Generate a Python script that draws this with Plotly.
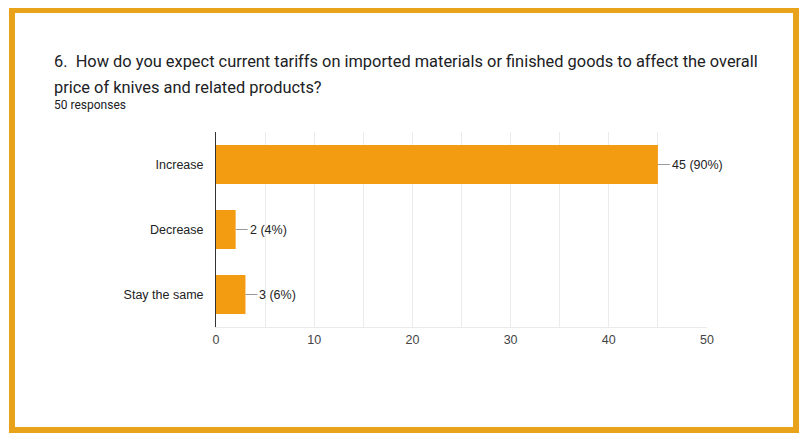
import plotly.graph_objects as go

categories = ["Increase", "Decrease", "Stay the same"]
counts = [45, 2, 3]
total = 50
x_ticks = [0, 10, 20, 30, 40, 50]

# page body has an 8px default margin, so the figure is shrunk and shifted
OFF = 8
W, H = 810 - OFF, 444 - OFF
L, R, T, B = 216 - OFF, 103, 132 - OFF, 117


def px(x):
    return (x - OFF - L) / (W - L - R)


def py(y):
    return 1 - (y - OFF - T) / (H - T - B)


fig = go.Figure()

fig.add_trace(go.Bar(
    x=counts, y=categories, orientation="h",
    marker=dict(color="#F39C12", line=dict(width=0)),
    hoverinfo="skip",
))

# value labels with a short connector
for c, n in zip(categories, counts):
    fig.add_annotation(
        x=n, y=c, xref="x", yref="y",
        text=f"{n} ({n / total * 100:.0f}%)",
        showarrow=True, arrowhead=0, arrowwidth=1, arrowcolor="#999999",
        ax=12, ay=0, xanchor="left", standoff=0,
        font=dict(family="Liberation Sans, Arial", size=12.5, color="#222222"),
    )

# question title
title_font = dict(family="Roboto, Arial", size=16.4, color="#202124")
fig.add_annotation(x=px(52), y=py(62), xref="paper", yref="paper",
                   text="6.  How do you expect current tariffs on imported materials or finished goods to affect the overall",
                   showarrow=False, xanchor="left", yanchor="middle", font=title_font)
fig.add_annotation(x=px(52), y=py(88), xref="paper", yref="paper",
                   text="price of knives and related products?",
                   showarrow=False, xanchor="left", yanchor="middle", font=title_font)
fig.add_annotation(x=px(52), y=py(105), xref="paper", yref="paper",
                   text="50 responses",
                   showarrow=False, xanchor="left", yanchor="middle",
                   font=dict(family="Roboto, Arial", size=12, color="#202124"))

# orange frame
fig.add_shape(type="rect", xref="paper", yref="paper",
              x0=px(12), x1=px(796), y0=py(10), y1=py(430),
              line=dict(color="#E9A31A", width=6), layer="below")

fig.update_layout(
    width=W, height=H,
    margin=dict(l=L, r=R, t=T, b=B),
    paper_bgcolor="white", plot_bgcolor="white",
    bargap=0.4, showlegend=False,
    xaxis=dict(
        range=[0, 50], tickvals=x_ticks, showgrid=True, gridcolor="#ebebeb",
        minor=dict(dtick=5, showgrid=True, gridcolor="#ebebeb"),
        zeroline=False, showline=True, linecolor="#ebebeb",
        ticklabelstandoff=1,
        tickfont=dict(family="Liberation Sans, Arial", size=12.5, color="#444444"),
    ),
    yaxis=dict(
        categoryorder="array", categoryarray=categories, autorange="reversed",
        showline=True, linecolor="#333333", linewidth=1, showgrid=False,
        ticklabelstandoff=9,
        tickfont=dict(family="Liberation Sans, Arial", size=12.5, color="#222222"),
    ),
)

fig.write_html("out.html")
